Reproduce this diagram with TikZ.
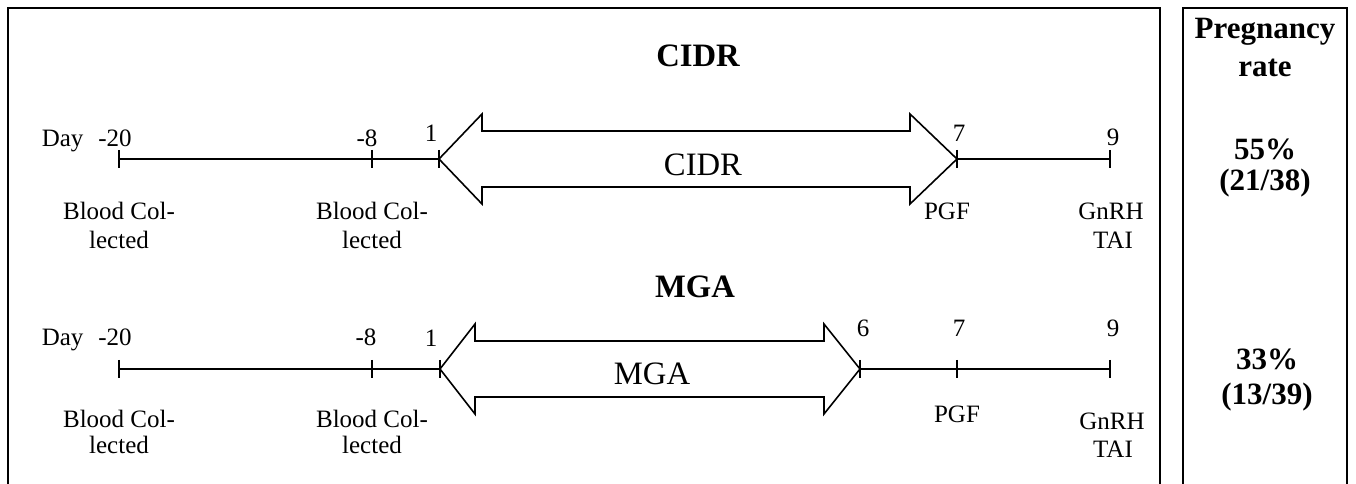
\documentclass[tikz,border=0pt]{standalone}
\usepackage{fontspec}
\setmainfont{Liberation Serif}
\begin{document}
\begin{tikzpicture}[x=0.75pt,y=-0.75pt,
  frame/.style={line width=1.5pt},
  axis/.style={line width=1.1pt},
  arr/.style={line width=1.2pt, line join=miter},
  lab/.style={font=\fontsize{18.75}{22}\selectfont, inner sep=0pt, anchor=base},
  big/.style={font=\fontsize{24.5}{29}\selectfont, inner sep=0pt, anchor=base},
  ttl/.style={font=\bfseries\fontsize{24.5}{29}\selectfont, inner sep=0pt, anchor=base},
  res/.style={font=\bfseries\fontsize{23.25}{28}\selectfont, inner sep=0pt, anchor=base}]
\useasboundingbox (0,0) rectangle (1356,484);

% frames
\draw[frame] (8,500) -- (8,8) -- (1160,8) -- (1160,500);
\draw[frame] (1183,500) -- (1183,8) -- (1347,8) -- (1347,500);

% ---------- CIDR timeline ----------
\node[ttl] (titleC) at (698,67) {CIDR};
\coordinate (t20) at (119,159);
\coordinate (t8)  at (372,159);
\coordinate (t1)  at (439,159);
\coordinate (t7)  at (957,159);
\coordinate (t9)  at (1110,159);
\draw[axis] (t20) -- (t1);
\draw[axis] (t7) -- (t9);
\foreach \c in {t20,t8,t1,t7,t9} \draw[axis] (\c) ++(0,-9) -- ++(0,18);
\draw[arr] (t1) -- (482,114) -- (482,131) -- (910,131) -- (910,114) -- (t7)
  -- (910,204) -- (910,187) -- (482,187) -- (482,204) -- cycle;
\node[big] (cidrA) at (703,176) {CIDR};

\node[lab, anchor=base east] (dayC) at (132,147) {Day\hspace{0.6em}-20};
\node[lab] (m8C) at (367,147) {-8};
\node[lab] (d1C) at (431,142) {1};
\node[lab] (d7C) at (959,142) {7};
\node[lab] (d9C) at (1113,146) {9};

\node[lab] (bc1C) at (119,220) {Blood Col-};
\node[lab] (bc1Cb) at (119,249) {lected};
\node[lab] (bc2C) at (372,220) {Blood Col-};
\node[lab] (bc2Cb) at (372,249) {lected};
\node[lab] (pgfC) at (947,220) {PGF};
\node[lab] (gnC) at (1111,220) {GnRH};
\node[lab] (taiC) at (1113,249) {TAI};

% ---------- MGA timeline ----------
\node[ttl] (titleM) at (695,298) {MGA};
\coordinate (b20) at (119,369);
\coordinate (b8)  at (372,369);
\coordinate (b1)  at (440,369);
\coordinate (b6)  at (860,369);
\coordinate (b7)  at (957,369);
\coordinate (b9)  at (1110,369);
\draw[axis] (b20) -- (b1);
\draw[axis] (b6) -- (b9);
\foreach \c in {b20,b8,b1,b6,b7,b9} \draw[axis] (\c) ++(0,-9) -- ++(0,18);
\draw[arr] (b1) -- (475,324) -- (475,341) -- (824,341) -- (824,324) -- (b6)
  -- (824,414) -- (824,397) -- (475,397) -- (475,414) -- cycle;
\node[big] (mgaA) at (652,384) {MGA};

\node[lab, anchor=base east] (dayM) at (132,346) {Day\hspace{0.6em}-20};
\node[lab] (m8M) at (366,346) {-8};
\node[lab] (d1M) at (431,347) {1};
\node[lab] (d6M) at (863,337) {6};
\node[lab] (d7M) at (959,337) {7};
\node[lab] (d9M) at (1113,337) {9};

\node[lab] (bc1M) at (119,427) {Blood Col-};
\node[lab] (bc1Mb) at (119,453) {lected};
\node[lab] (bc2M) at (372,427) {Blood Col-};
\node[lab] (bc2Mb) at (372,453) {lected};
\node[lab] (pgfM) at (957,422) {PGF};
\node[lab] (gnM) at (1112,429) {GnRH};
\node[lab] (taiM) at (1113,457) {TAI};

% ---------- pregnancy rate ----------
\node[res] (preg) at (1265,39) {Pregnancy};
\node[res] (rate) at (1265,77) {rate};
\node[res] (r1) at (1265,160) {55\%};
\node[res] (r1n) at (1265,191) {(21/38)};
\node[res] (r2) at (1267,369) {33\%};
\node[res] (r2n) at (1267,404) {(13/39)};
\end{tikzpicture}
\end{document}
